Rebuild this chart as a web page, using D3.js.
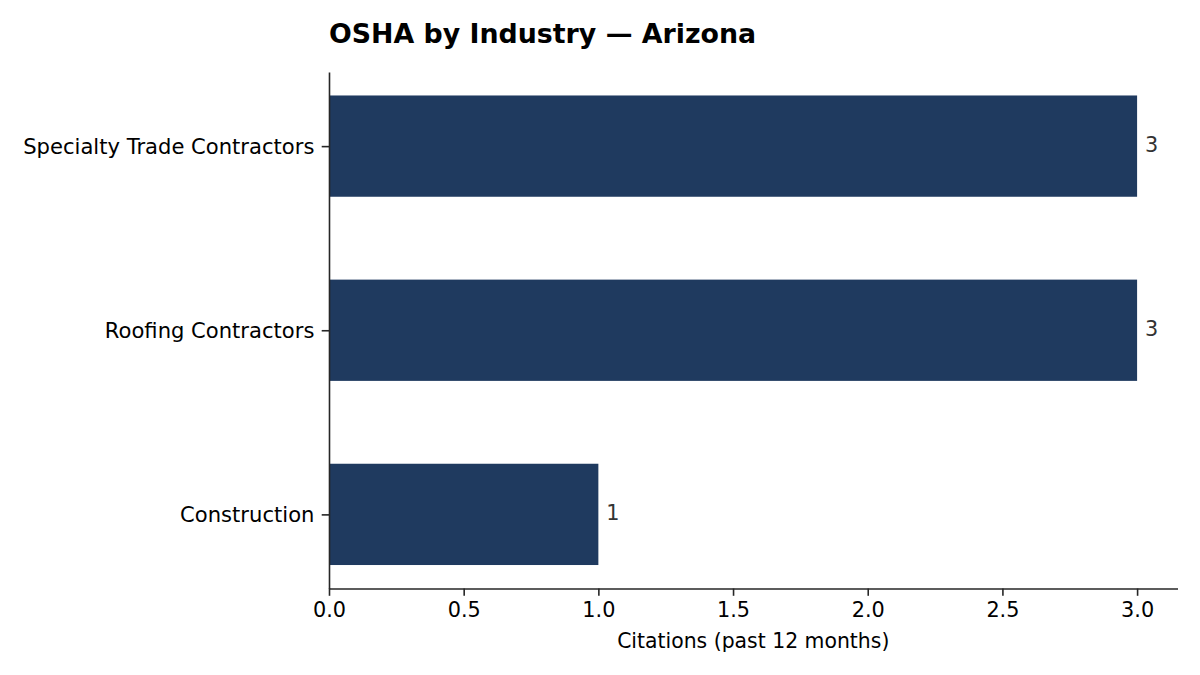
<!DOCTYPE html>
<html>
<head>
<meta charset="utf-8">
<script src="https://cdn.jsdelivr.net/npm/d3@7"></script>
<style>
  body { margin: 0; background: #fff; }
  svg { display: block; font-family: "DejaVu Sans", sans-serif; }
</style>
</head>
<body>
<svg id="chart"></svg>
<script>
// data, top row first
const industries = ["Specialty Trade Contractors", "Roofing Contractors", "Construction"];
const citations = [3, 3, 1];
const xTicks = [0, 0.5, 1, 1.5, 2, 2.5, 3];

const width = 1200;
const height = 675;
const margin = { top: 72, right: 22.5, bottom: 86.5, left: 329 };
const innerWidth = width - margin.left - margin.right;
const innerHeight = height - margin.top - margin.bottom;

const barColor = "#1f3a5f";
const axisColor = "#262626";

const svg = d3.select("#chart")
  .attr("width", width)
  .attr("height", height);

const g = svg.append("g")
  .attr("transform", `translate(${margin.left},${margin.top})`);

// matplotlib style: bars at 0..n-1 with height 0.55 and 5% padding
const n = industries.length;
const barH = 0.55;
const span = (n - 1) + barH;
const pad = span * 0.05;

const y = d3.scaleLinear()
  .domain([-barH / 2 - pad, (n - 1) + barH / 2 + pad])
  .range([innerHeight, 0]);

const x = d3.scaleLinear()
  .domain([0, d3.max(citations) * 1.05])
  .range([0, innerWidth]);

// index 0 is the bottom row
const rowIndex = i => n - 1 - i;

const rows = industries.map((name, i) => ({ name, value: citations[i], pos: rowIndex(i) }));

// barras
g.selectAll("rect.bar")
  .data(rows)
  .enter()
  .append("rect")
  .attr("class", "bar")
  .attr("x", x(0))
  .attr("y", d => y(d.pos + barH / 2))
  .attr("width", d => x(d.value) - x(0))
  .attr("height", d => y(d.pos - barH / 2) - y(d.pos + barH / 2))
  .attr("fill", barColor);

// value labels
g.selectAll("text.value")
  .data(rows)
  .enter()
  .append("text")
  .attr("class", "value")
  .attr("x", d => x(d.value) + 8)
  .attr("y", d => y(d.pos))
  .attr("dy", "0.27em")
  .attr("fill", "#333333")
  .style("font-size", "20.8px")
  .text(d => d.value);

// x axis
const xAxis = g.append("g")
  .attr("transform", `translate(0,${innerHeight})`)
  .call(
    d3.axisBottom(x)
      .tickValues(xTicks)
      .tickSize(7.3)
      .tickPadding(6)
      .tickSizeOuter(0)
      .tickFormat(d3.format(".1f"))
  );

// y axis
const yAxis = g.append("g")
  .call(
    d3.axisLeft(y)
      .tickValues(rows.map(d => d.pos))
      .tickSize(7.3)
      .tickPadding(7.3)
      .tickSizeOuter(0)
      .tickFormat(p => rows.find(r => r.pos === p).name)
  );

[xAxis, yAxis].forEach(ax => {
  ax.attr("font-family", "DejaVu Sans").attr("font-size", 20.8);
  ax.select(".domain").attr("stroke", axisColor).attr("stroke-width", 1.6);
  ax.selectAll(".tick line").attr("stroke", axisColor).attr("stroke-width", 1.6);
  ax.selectAll(".tick text").attr("fill", "#000");
});

yAxis.attr("font-size", 21.1);
yAxis.selectAll(".tick text").attr("dy", "0.36em");

// eixo x label
g.append("text")
  .attr("x", innerWidth / 2)
  .attr("y", 648 - margin.top)
  .attr("text-anchor", "middle")
  .style("font-size", "20.4px")
  .text("Citations (past 12 months)");

// titulo
svg.append("text")
  .attr("x", margin.left)
  .attr("y", 43.3)
  .style("font-size", "26.8px")
  .style("font-weight", "bold")
  .text("OSHA by Industry — Arizona");
</script>
</body>
</html>
